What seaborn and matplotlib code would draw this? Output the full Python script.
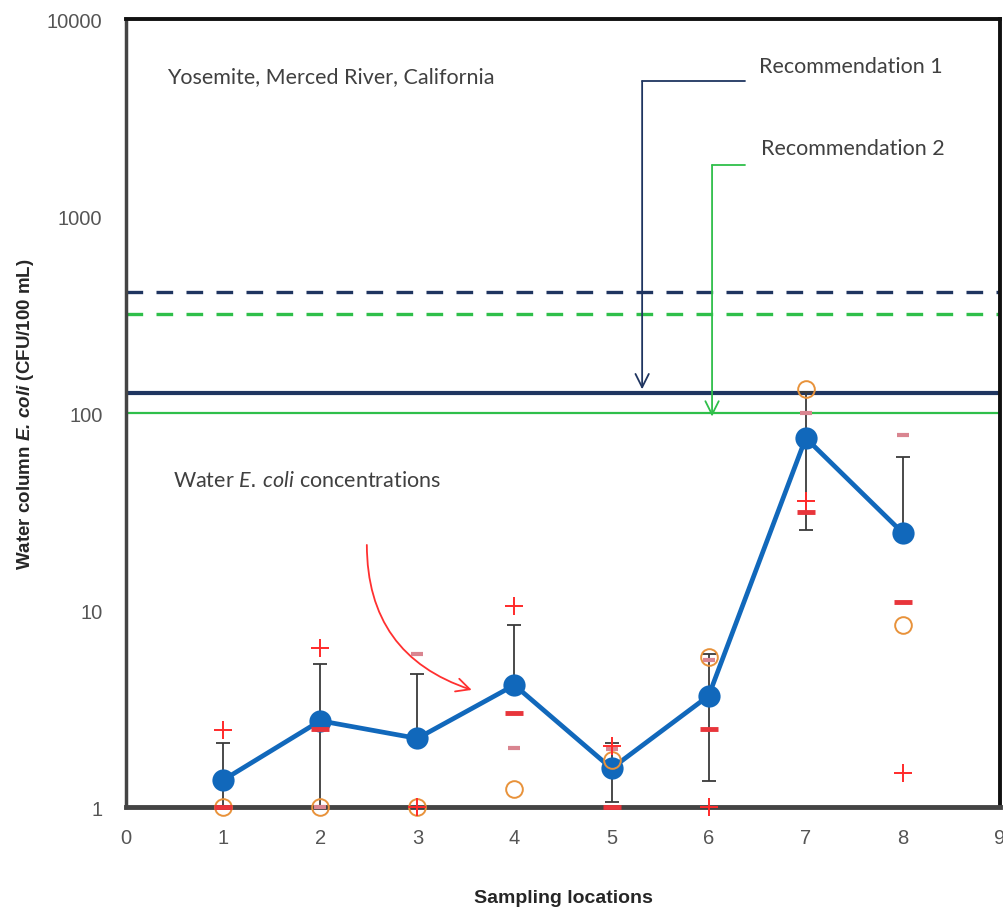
import numpy as np
import pandas as pd
import matplotlib
matplotlib.use('Agg')
import matplotlib.pyplot as plt
import seaborn as sns

# sampling locations and E. coli values (CFU/100 mL)
locations = [1, 2, 3, 4, 5, 6, 7, 8]
mean_conc = [1.37, 2.74, 2.23, 4.16, 1.57, 3.67, 74.7, 24.6]
err_upper = [2.11, 5.32, 4.73, 8.42, 2.11, 5.98, 128, 60]
err_lower = [1.0, 1.0, np.nan, np.nan, 1.06, 1.355, 25.5, np.nan]

plus_red = [2.47, 6.41, 1.0, 10.5, 2.05, 1.0, 35.9, 1.48]
dash_red = [1.0, 2.49, np.nan, 2.99, 1.0, 2.49, 31.5, 11.0]
dash_pink = [np.nan, 1.0, 5.98, 1.99, 1.97, 5.57, 99.6, 77.6]
circle_orange = [1.0, 1.0, 1.0, 1.24, 1.73, 5.75, 132, 8.42]

# recommended criteria: geometric mean and statistical threshold value
rec_names = ['Recommendation 1', 'Recommendation 2']
rec_gm = [126, 100]
rec_stv = [410, 320]
rec_colors = ['#1f3560', '#2fbf4a']

sns.set_style('white')
plt.rcParams['font.family'] = ['Liberation Sans', 'DejaVu Sans']
plt.rcParams['mathtext.fontset'] = 'custom'
plt.rcParams['mathtext.it'] = 'Lato:italic'
plt.rcParams['mathtext.bfit'] = 'Liberation Sans:bold:italic'

df = pd.DataFrame({
    'loc': locations, 'mean': mean_conc,
    'plus': plus_red, 'dash': dash_red, 'pink': dash_pink, 'circ': circle_orange,
})

fig = plt.figure(figsize=(10.04, 9.12), dpi=100)
ax = fig.add_axes([0.1255, 0.114, 0.8705, 0.864])

# threshold lines
for gm, stv, col in zip(rec_gm, rec_stv, rec_colors):
    ax.axhline(stv, color=col, lw=2.4, ls=(0, (5, 4)), zorder=1)
ax.axhline(rec_gm[0], color=rec_colors[0], lw=3.0, zorder=1)
ax.axhline(rec_gm[1], color=rec_colors[1], lw=1.6, zorder=1)

# error bars (upper, and lower where present)
mean_arr = np.array(mean_conc)
lower = np.where(np.isnan(err_lower), mean_arr, err_lower)
yerr = [mean_arr - lower, np.array(err_upper) - mean_arr]
ax.errorbar(locations, mean_conc, yerr=yerr, fmt='none', ecolor='#3a3a3a',
            elinewidth=1.3, capsize=5, capthick=1.3, zorder=2, clip_on=False)

# individual sample markers
sns.lineplot(data=df, x='loc', y='circ', ax=ax, linestyle='', marker='o', markersize=12,
             markerfacecolor='none', markeredgecolor='#e8923a', markeredgewidth=1.4,
             errorbar=None, zorder=5, clip_on=False)
sns.lineplot(data=df, x='loc', y='dash', ax=ax, linestyle='', marker='_', markersize=13,
             markeredgewidth=3.5, color='#e8353b', markeredgecolor='#e8353b',
             errorbar=None, zorder=5, clip_on=False)
sns.lineplot(data=df, x='loc', y='pink', ax=ax, linestyle='', marker='_', markersize=9,
             markeredgewidth=3.0, color='#d98590', markeredgecolor='#d98590',
             errorbar=None, zorder=5, clip_on=False)
sns.lineplot(data=df, x='loc', y='plus', ax=ax, linestyle='', marker='+', markersize=13,
             markeredgewidth=1.4, color='#ff2a2a', markeredgecolor='#ff2a2a',
             errorbar=None, zorder=5, clip_on=False)

# mean line
sns.lineplot(data=df, x='loc', y='mean', ax=ax, color='#1168bb', lw=3.4, marker='o',
             markersize=16, markeredgewidth=0, errorbar=None, zorder=4)

ax.set_yscale('log')
ax.set_ylim(1, 10000)
ax.set_xlim(0, 9)
ax.set_xticks(range(10))
ax.set_xticklabels([str(i) for i in range(10)])
ax.set_yticks([1, 10, 100, 1000, 10000])
ax.set_yticklabels(['1', '10', '100', '1000', '10000'])
ax.minorticks_off()
ax.tick_params(axis='both', labelsize=14.5, labelcolor='#555555', color='#aaaaaa',
               length=5, width=1, direction='out')
ax.tick_params(axis='x', pad=10)
ax.tick_params(axis='y', pad=12)

for side in ['left', 'bottom']:
    ax.spines[side].set_color('#444444')
for side in ['top', 'right']:
    ax.spines[side].set_color('#111111')
ax.spines['left'].set_linewidth(2.5)
ax.spines['bottom'].set_linewidth(3.5)
ax.spines['top'].set_linewidth(2.8)
ax.spines['right'].set_linewidth(2.8)

ax.set_xlabel('Sampling locations', fontsize=14, fontweight='bold', labelpad=30)
ax.set_ylabel('Water column $\\mathbfit{E.\\,coli}$ (CFU/100 mL)', fontsize=13.5,
              fontweight='bold', labelpad=8)

# annotations
txt = dict(fontsize=15.5, color='#404040', family=['Lato', 'DejaVu Sans'], va='center')
ax.text(0.42, 5140, 'Yosemite, Merced River, California', **txt)
ax.text(0.48, 45.7, 'Water $\\mathit{E.\\,coli}$ concentrations', **txt)

leader_x0 = [6.375, 6.375]
leader_x1 = [5.315, 6.035]
leader_y = [4840, 1815]
tip_y = [132, 96]
label_pos = [(6.52, 5770), (6.54, 2213)]
for i in range(2):
    ax.plot([leader_x0[i], leader_x1[i]], [leader_y[i], leader_y[i]],
            color=rec_colors[i], lw=1.3, zorder=3)
    ax.annotate('', xy=(leader_x1[i], tip_y[i]), xytext=(leader_x1[i], leader_y[i]),
                arrowprops=dict(arrowstyle='->', color=rec_colors[i], lw=1.3,
                                mutation_scale=24, shrinkA=0, shrinkB=0), zorder=3)
    ax.text(label_pos[i][0], label_pos[i][1], rec_names[i], **txt)

ax.annotate('', xy=(3.56, 3.93), xytext=(2.48, 21.4),
            arrowprops=dict(arrowstyle='->', color='#ff3030', lw=1.3, mutation_scale=24,
                            connectionstyle='arc3,rad=0.36', shrinkA=0, shrinkB=0))

fig.savefig('out.png', dpi=100)
